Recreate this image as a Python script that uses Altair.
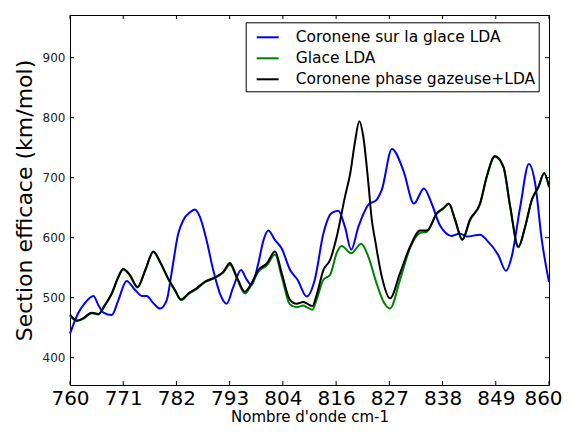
import altair as alt
import pandas as pd

# ---- data ----
series_names = ["Coronene sur la glace LDA", "Glace LDA", "Coronene phase gazeuse+LDA"]
series_colors = ["#0000ff", "#008000", "#000000"]

blue_x = [760.0, 761.7, 763.1, 764.9, 765.9, 767.0, 768.7, 770.1, 771.8, 773.6, 775.0, 776.0,
          777.4, 778.8, 780.2, 781.2, 782.6, 783.7, 785.0, 786.1, 787.1, 788.5, 789.9, 791.3,
          792.7, 794.1, 795.7, 796.9, 797.9, 799.3, 800.4, 801.4, 802.8, 804.2, 805.9, 807.5,
          809.4, 811.1, 812.9, 814.6, 816.0, 817.4, 818.7, 820.2, 822.3, 824.0, 825.1, 827.2,
          829.6, 831.8, 833.9, 835.5, 837.2, 839.7, 841.4, 842.8, 845.6, 847.0, 849.4, 851.0,
          852.2, 854.0, 855.8, 857.1, 858.5, 860.0]
blue_y = [440, 474, 491, 503, 488, 475, 471, 496, 528, 513, 503, 503,
          491, 482, 496, 541, 607, 630, 642, 647, 635, 596, 546, 507,
          490, 518, 546, 530, 521, 557, 596, 612, 596, 582, 547, 530,
          502, 530, 607, 641, 645, 618, 580, 618, 655, 663, 680, 748,
          712, 657, 682, 657, 621, 603, 607, 602, 605, 596, 571, 545,
          568, 652, 723, 691, 596, 526]

black_x = [760.0, 761.4, 762.8, 764.5, 765.9, 767.3, 768.7, 770.1, 771.1, 772.5, 774.1, 775.7,
           777.4, 778.8, 780.5, 781.9, 783.2, 784.7, 786.5, 788.2, 790.3, 792.0, 793.4, 794.8,
           796.5, 797.9, 799.3, 801.1, 802.8, 804.2, 805.9, 807.3, 808.7, 809.5, 810.6, 811.5,
           812.9, 814.3, 815.7, 817.4, 818.5, 819.5, 820.4, 821.2, 822.3, 823.0, 823.7, 825.1,
           826.8, 828.9, 831.0, 833.1, 834.5, 836.6, 837.9, 839.1, 840.4, 841.9, 843.5, 845.6,
           847.0, 848.7, 850.5, 851.9, 853.6, 855.0, 856.4, 857.8, 859.0, 860.0]
black_y = [472, 462, 466, 475, 473, 488, 507, 535, 548, 538, 518, 546,
           577, 560, 532, 513, 497, 507, 516, 527, 534, 543, 558, 535,
           510, 524, 546, 557, 577, 541, 497, 490, 493, 490, 486, 505,
           546, 563, 602, 668, 707, 760, 794, 770, 690, 630, 596, 535,
           499, 541, 585, 612, 612, 641, 649, 657, 630, 597, 630, 657,
           702, 736, 718, 652, 585, 618, 663, 685, 708, 685]

green_x = [760.0, 761.4, 762.8, 764.5, 765.9, 767.3, 768.7, 770.1, 771.1, 772.5, 774.1, 775.7,
           777.4, 778.8, 780.5, 781.9, 783.2, 784.7, 786.5, 788.2, 790.3, 792.0, 793.4, 794.8,
           796.5, 797.9, 799.3, 801.1, 802.8, 804.2, 805.9, 807.3, 808.7, 809.5, 810.6, 811.5,
           812.9, 814.3, 815.7, 816.7, 818.7, 820.8, 822.3, 824.0, 825.6, 826.8, 828.9, 831.0,
           833.1, 834.5, 836.6, 837.9, 839.1, 840.4, 841.9, 843.5, 845.6,
           847.0, 848.7, 850.5, 851.9, 853.6, 855.0, 856.4, 857.8, 859.0, 860.0]
green_y = [470, 461, 465, 474, 472, 487, 506, 534, 547, 537, 517, 545,
           576, 559, 531, 512, 496, 506, 515, 526, 533, 542, 555, 533,
           507, 522, 543, 554, 572, 535, 489, 484, 487, 484, 480, 497,
           530, 538, 575, 586, 574, 590, 568, 524, 491, 482, 530, 583,
           608, 610, 640, 648, 656, 629, 596, 629, 656,
           701, 735, 717, 651, 584, 617, 662, 684, 707, 684]

x_ticks = [760 + k * 100 / 9 for k in range(10)]
y_ticks = [400, 500, 600, 700, 800, 900]

x_domain = [760, 860]
y_domain = [354.5, 971.2]

# ---- build table ----
frames = []
for name, xs, ys in [(series_names[0], blue_x, blue_y),
                     (series_names[1], green_x, green_y),
                     (series_names[2], black_x, black_y)]:
    frames.append(pd.DataFrame({"x": xs, "y": ys, "serie": name}))
df = pd.concat(frames, ignore_index=True)

W, H = 479, 370
FONT = "DejaVu Sans"

xscale = alt.Scale(domain=x_domain, nice=False, zero=False)
yscale = alt.Scale(domain=y_domain, nice=False, zero=False)

color = alt.Color(
    "serie:N",
    scale=alt.Scale(domain=series_names, range=series_colors),
    legend=alt.Legend(
        title=None, orient="none", legendX=175.7, legendY=7.3,
        padding=3, symbolOffset=7, symbolType="stroke", symbolSize=484,
        symbolStrokeWidth=2, labelFontSize=15.5, labelOffset=16, labelFont=FONT,
        labelColor="#000000", strokeColor="#000000", fillColor="#ffffff",
        rowPadding=0, labelLimit=400,
    ),
)

x_axis = alt.Axis(values=x_ticks, format=".0f", ticks=False, domain=False, grid=False,
                  labelFontSize=20, labelFont=FONT, labelColor="#000000", labelPadding=3,
                  labelFlush=False, labelOverlap=False,
                  labelOffset={"expr": "datum.value > 859 ? -6 : 0"},
                  title="Nombre d'onde cm-1", titleFontSize=15, titleFont=FONT,
                  titleFontWeight="normal", titleColor="#000000",
                  titleX=239.5, titleY=36.5, titleBaseline="alphabetic", titleAlign="center")
y_axis = alt.Axis(values=y_ticks, ticks=False, domain=False, grid=False,
                  labelFontSize=12, labelFont=FONT, labelColor="#222222", labelPadding=5,
                  title="Section efficace (km/mol)", titleFontSize=22, titleFont=FONT,
                  titleFontWeight="normal", titleColor="#000000",
                  titleX=-38.3, titleY=185, titleAngle=-90, titleBaseline="alphabetic",
                  titleAlign="center")

X = alt.X("x:Q", scale=xscale, axis=x_axis)
Y = alt.Y("y:Q", scale=yscale, axis=y_axis)

layers = []
for i, name in enumerate(series_names):
    layers.append(
        alt.Chart(df).transform_filter(alt.datum.serie == name)
        .mark_line(interpolate="monotone", strokeWidth=2)
        .encode(x=X, y=Y, color=color)
    )

xt = pd.DataFrame({"x": x_ticks})
yt = pd.DataFrame({"y": y_ticks})
tick_style = dict(color="#000000", strokeWidth=1)
bottom_ticks = alt.Chart(xt).mark_rule(**tick_style).encode(
    x=X, y=alt.value(H), y2=alt.value(H - 4))
top_ticks = alt.Chart(xt).mark_rule(**tick_style).encode(
    x=X, y=alt.value(0), y2=alt.value(4))
left_ticks = alt.Chart(yt).mark_rule(**tick_style).encode(
    y=Y, x=alt.value(0), x2=alt.value(4))
right_ticks = alt.Chart(yt).mark_rule(**tick_style).encode(
    y=Y, x=alt.value(W), x2=alt.value(W - 4))

chart = alt.layer(*layers, bottom_ticks, top_ticks, left_ticks, right_ticks).properties(
    width=W, height=H,
    background="#ffffff",
    autosize=alt.AutoSizeParams(type="none"),
    padding={"left": 62, "top": 7, "right": 14, "bottom": 40},
).configure_view(stroke="#000000", strokeWidth=1)

chart.save("out.html", embed_options={"renderer": "svg", "actions": False})
